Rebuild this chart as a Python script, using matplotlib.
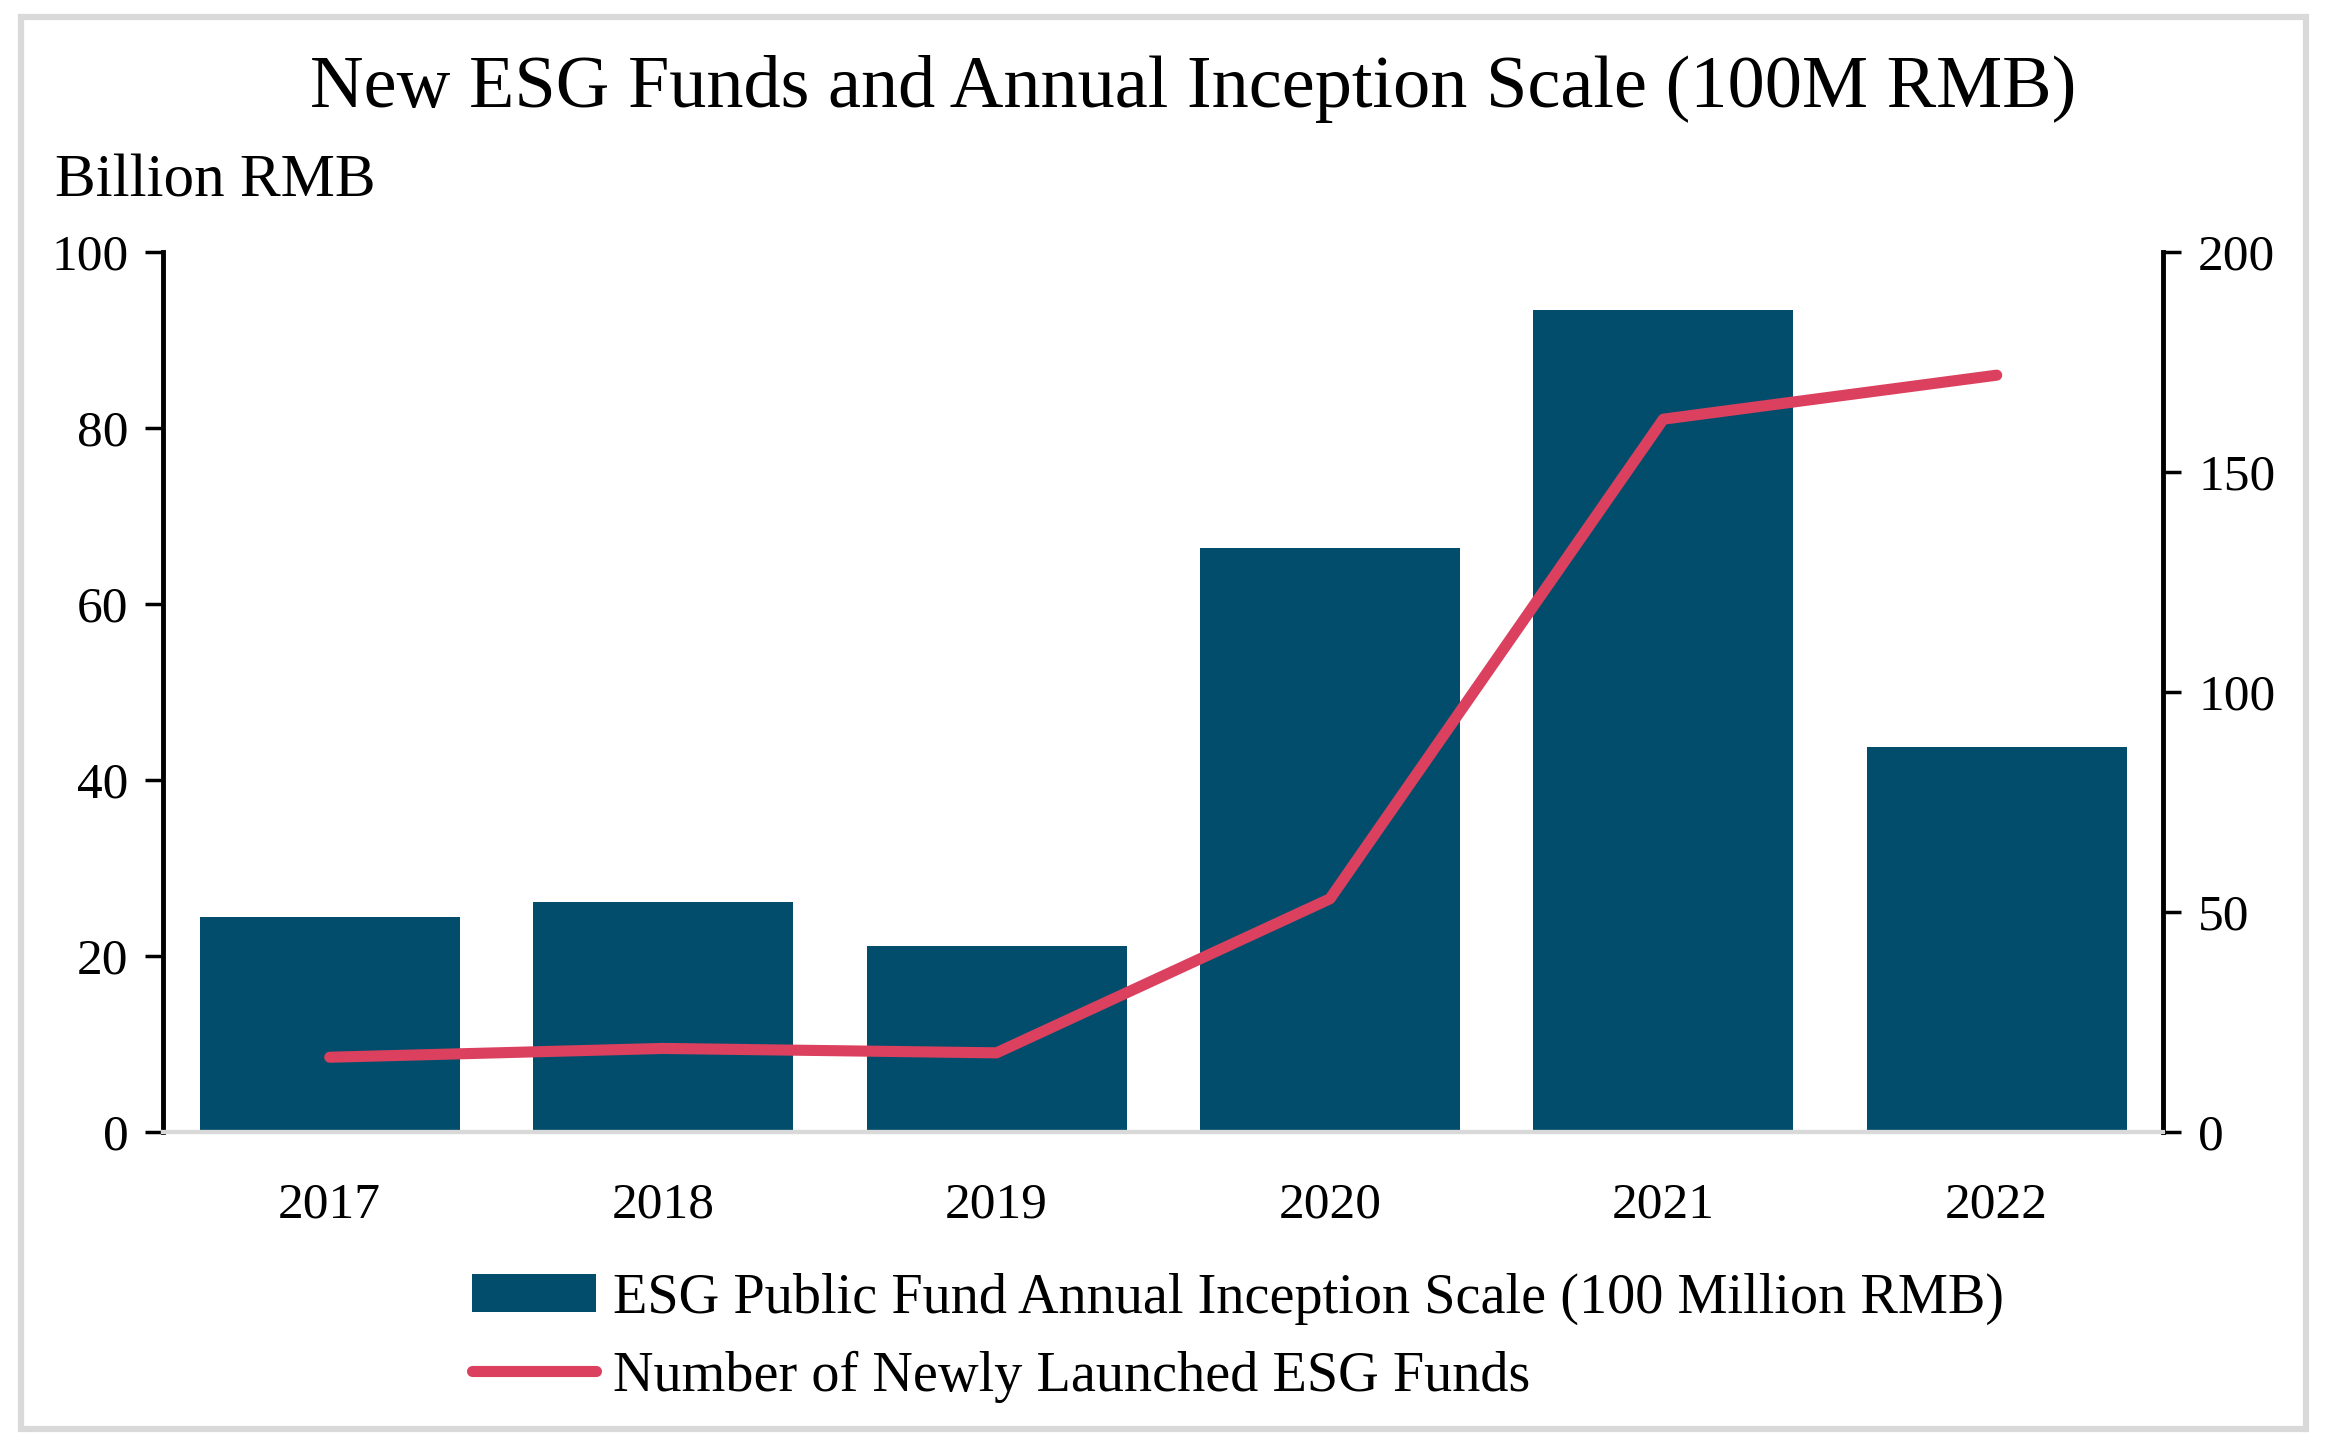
import matplotlib
matplotlib.use("Agg")
import matplotlib.pyplot as plt
from matplotlib.patches import Rectangle, Patch
from matplotlib.lines import Line2D

years = ["2017", "2018", "2019", "2020", "2021", "2022"]
inception_scale = [24.4, 26.1, 21.1, 66.4, 93.4, 43.7]
new_funds = [17, 19, 18, 53, 162, 172]
left_ticks = [0, 20, 40, 60, 80, 100]
right_ticks = [0, 50, 100, 150, 200]

BAR_C = "#034d6c"
LINE_C = "#db405e"
plt.rcParams["font.family"] = ["Liberation Serif", "DejaVu Serif"]

fig = plt.figure(figsize=(23.26, 14.48), dpi=100)
ax = fig.add_axes([0.0701, 0.2182, 0.860, 0.6078])
x = list(range(len(years)))
ax.bar(x, inception_scale, width=0.78, color=BAR_C, zorder=2)
ax.set_xlim(-0.5, 5.5)
ax.set_ylim(0, 100)
ax.set_yticks(left_ticks)
ax.set_xticks(x)
ax.set_xticklabels(years)

ax2 = ax.twinx()
ax2.plot(x, new_funds, color=LINE_C, lw=8, solid_capstyle="round", zorder=3)
ax2.set_ylim(0, 200)
ax2.set_yticks(right_ticks)

for a in (ax, ax2):
    a.spines["top"].set_visible(False)
    a.spines["bottom"].set_color("#d9d9d9")
    a.spines["bottom"].set_linewidth(3)
    a.spines["left"].set_linewidth(3.5)
    a.spines["right"].set_linewidth(3.5)
    a.tick_params(axis="y", length=13, width=2.5, pad=12, labelsize=37)
    a.tick_params(axis="x", length=0, pad=36, labelsize=37)
ax.spines["right"].set_visible(False)
ax2.spines["left"].set_visible(False)
ax.patch.set_visible(False)

fig.text(0.513, 0.9385, "New ESG Funds and Annual Inception Scale (100M RMB)",
         ha="center", va="center", fontsize=53.5)
fig.text(0.0237, 0.864, "Billion RMB", ha="left", va="baseline", fontsize=44)

handles = [Patch(facecolor=BAR_C, edgecolor="none"),
           Line2D([0], [0], color=LINE_C, lw=8, solid_capstyle="round")]
labels = ["ESG Public Fund Annual Inception Scale (100 Million RMB)",
          "Number of Newly Launched ESG Funds"]
fig.legend(handles, labels, loc="upper left", bbox_to_anchor=(0.203, 0.121),
           frameon=False, fontsize=40.5, handlelength=2.2, handleheight=0.68,
           handletextpad=0.3, labelspacing=0.45, borderaxespad=0, borderpad=0)

fig.patches.append(Rectangle((0.0090, 0.0131), 0.9824, 0.9752, transform=fig.transFigure,
                             fill=False, edgecolor="#d9d9d9", linewidth=4.5))

fig.savefig("out.png", dpi=100)
